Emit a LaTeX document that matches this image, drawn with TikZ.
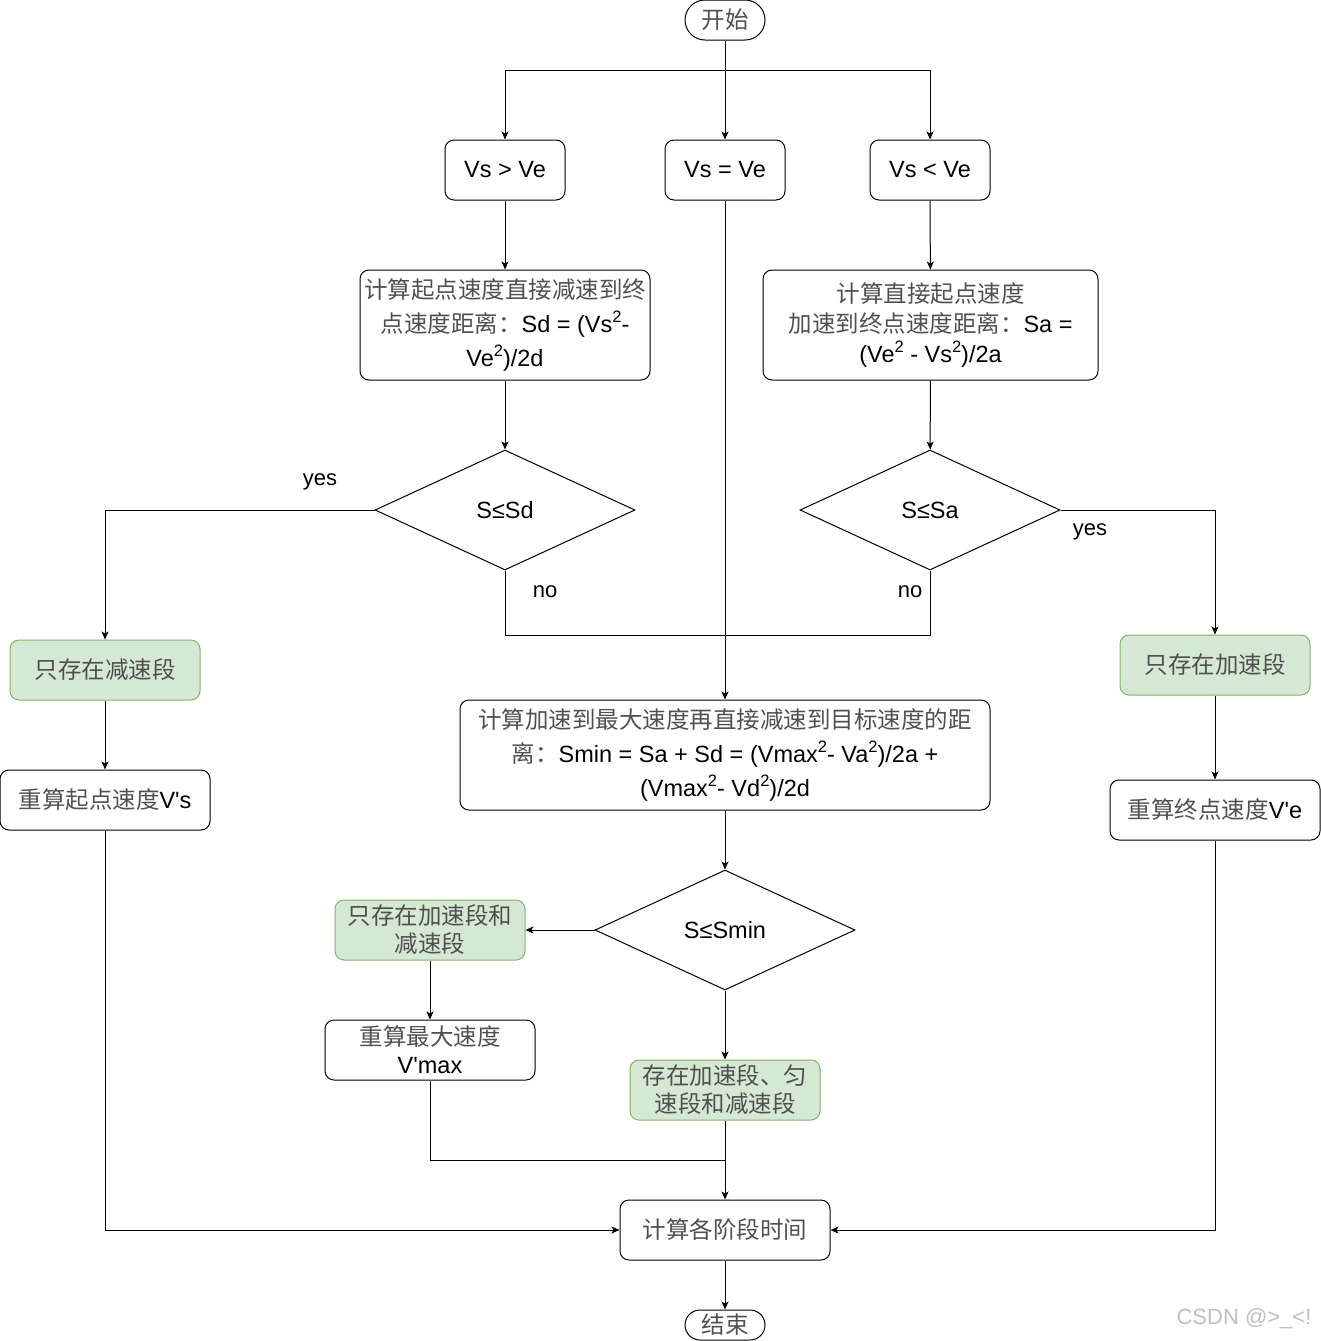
\documentclass[tikz,border=0pt]{standalone}
\usepackage{fontspec}
\setmainfont{Liberation Sans}
\newfontfamily\cjkf{Noto Sans CJK SC}
\usetikzlibrary{arrows.meta,shapes.geometric}
\definecolor{gfill}{HTML}{D5E8D4}
\definecolor{gline}{HTML}{82B366}
\definecolor{cjkc}{HTML}{505050}
\newcommand\cj[1]{{\cjkf\color{cjkc}#1}}
\newcommand\sq{\raisebox{0.42em}{\fontsize{16.5}{16}\selectfont 2}}
\newcommand\apo{\textquotesingle}
\begin{document}
\begin{tikzpicture}[x=1pt,y=-1pt,
  every node/.style={font=\fontsize{23.5}{28}\selectfont, inner sep=0pt, align=center},
  box/.style={draw, line width=1pt, rounded corners=9pt, minimum width=#1, minimum height=60},
  gbox/.style={box=#1, fill=gfill, draw=gline},
  bigbox/.style={box=#1, minimum height=110},
  term/.style={draw, line width=1pt, rounded corners=#1, minimum width=80, minimum height=2*#1},
  dec/.style={draw, line width=1pt, diamond, minimum width=260, minimum height=120},
  lab/.style={font=\fontsize{22}{26}\selectfont},
  arr/.style={line width=1pt, -{Stealth[length=8pt,width=7pt,inset=2pt]}},
  ln/.style={line width=1pt}]
\useasboundingbox (0,0) rectangle (1321,1341);

\node[term=20] (start) at (725,20) {\cj{开始}};
\node[box=120] (gt) at (505,170) {Vs \textgreater{} Ve};
\node[box=120] (eq) at (725,170) {Vs = Ve};
\node[box=120] (lt) at (930,170) {Vs \textless{} Ve};

\node[bigbox=290, font=\fontsize{23.5}{34}\selectfont] (b1) at (505,325)
  {\cj{计算起点速度直接减速到终}\\\cj{点速度距离：}Sd = (Vs\sq-\\Ve\sq)/2d};
\node[bigbox=335, font=\fontsize{23.5}{30}\selectfont] (b2) at (930.5,325)
  {\cj{计算直接起点速度}\\\cj{加速到终点速度距离：}Sa =\\(Ve\sq{} - Vs\sq)/2a};

\node[dec] (d1) at (505,510) {S≤Sd};
\node[dec] (d2) at (930,510) {S≤Sa};

\node[gbox=190] (onlyd) at (105,670) {\cj{只存在减速段}};
\node[box=210] (rs) at (105,800) {\cj{重算起点速度}V\apo s};
\node[gbox=190] (onlya) at (1215,665) {\cj{只存在加速段}};
\node[box=210] (re) at (1215,810) {\cj{重算终点速度}V\apo e};

\node[bigbox=530, font=\fontsize{23.5}{34}\selectfont] (b3) at (725,755)
  {\cj{计算加速到最大速度再直接减速到目标速度的距}\\\cj{离：}Smin = Sa + Sd = (Vmax\sq- Va\sq)/2a +\\(Vmax\sq- Vd\sq)/2d};

\node[dec] (d3) at (725,930) {S≤Smin};
\node[gbox=190] (both) at (430,930) {\cj{只存在加速段和}\\\cj{减速段}};
\node[box=210] (vmax) at (430,1050) {\cj{重算最大速度}\\V\apo max};
\node[gbox=190] (three) at (725,1090) {\cj{存在加速段、匀}\\\cj{速段和减速段}};
\node[box=210] (calc) at (725,1230) {\cj{计算各阶段时间}};
\node[term=15] (end) at (725,1325) {\cj{结束}};

\coordinate (j0) at (725,70);
\coordinate (j1) at (505,635);
\coordinate (j2) at (930,635);
\coordinate (j3) at (725,1160);

\draw[ln] (start) -- (j0);
\draw[arr] (j0) -| (gt.north);
\draw[arr] (j0) -- (eq.north);
\draw[arr] (j0) -| (lt.north);
\draw[arr] (gt) -- (b1);
\draw[arr] (lt) -- (b2);
\draw[arr] (b1) -- (d1);
\draw[arr] (b2) -- (d2);
\draw[arr] (d1.west) -| (onlyd.north);
\draw[arr] (d2.east) -| (onlya.north);
\draw[ln] (d1.south) -- (j1) -- (j2) -- (d2.south);
\draw[arr] (eq.south) -- (b3.north);
\draw[arr] (onlyd) -- (rs);
\draw[arr] (onlya) -- (re);
\draw[arr] (b3) -- (d3);
\draw[arr] (d3.west) -- (both.east);
\draw[arr] (both) -- (vmax);
\draw[arr] (d3.south) -- (three.north);
\draw[ln] (vmax.south) |- (j3);
\draw[arr] (three.south) -- (calc.north);
\draw[arr] (rs.south) |- (calc.west);
\draw[arr] (re.south) |- (calc.east);
\draw[arr] (calc) -- (end);

\node[lab] (yes1) at (320,482) {yes};
\node[lab] (no1) at (545,592) {no};
\node[lab] (no2) at (910,592) {no};
\node[lab] (yes2) at (1090,532) {yes};
\node[font=\fontsize{22}{26}\selectfont, text=black!25] (wm) at (1244,1319) {CSDN @\textgreater\_\textless!};
\end{tikzpicture}
\end{document}
